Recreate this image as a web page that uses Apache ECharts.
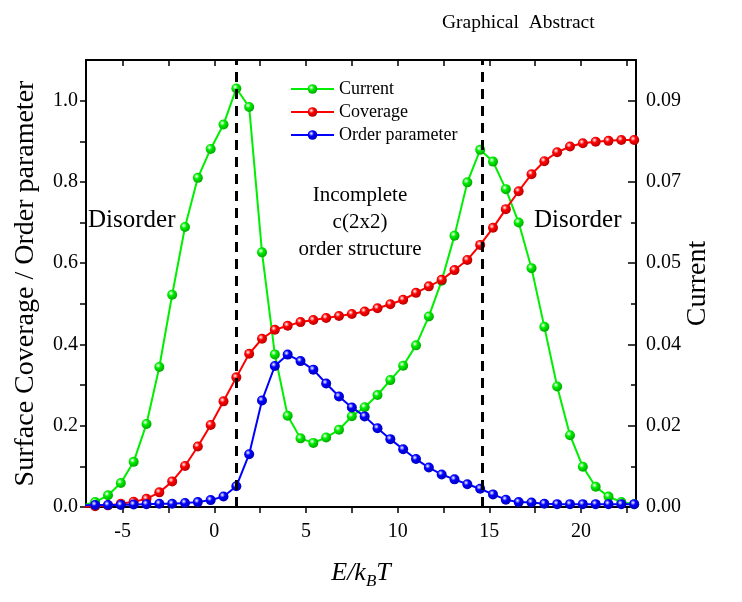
<!DOCTYPE html>
<html>
<head>
<meta charset="utf-8">
<script src="https://cdn.jsdelivr.net/npm/echarts@6/dist/echarts.min.js"></script>
<style>
html,body{margin:0;padding:0;background:#fff;}
#chart{width:742px;height:602px;}
</style>
</head>
<body>
<div id="chart"></div>
<script>
// ---- data ----
var xValues = [-7.2, -6.5, -5.8, -5.1, -4.4, -3.7, -3.0, -2.3, -1.6, -0.9, -0.2, 0.5, 1.2, 1.9, 2.6, 3.3, 4.0, 4.7, 5.4, 6.1, 6.8, 7.5, 8.2, 8.9, 9.6, 10.3, 11.0, 11.7, 12.4, 13.1, 13.8, 14.5, 15.2, 15.9, 16.6, 17.3, 18.0, 18.7, 19.4, 20.1, 20.8, 21.5, 22.2, 22.9];
var current = [0.0003, 0.0011, 0.0026, 0.0053, 0.0100, 0.0184, 0.0310, 0.0470, 0.0620, 0.0729, 0.0793, 0.0847, 0.0927, 0.0886, 0.0564, 0.0338, 0.0202, 0.0152, 0.0142, 0.0154, 0.0171, 0.0201, 0.0221, 0.0248, 0.0281, 0.0313, 0.0358, 0.0422, 0.0501, 0.0601, 0.0719, 0.0791, 0.0765, 0.0704, 0.0630, 0.0529, 0.0399, 0.0267, 0.0159, 0.0089, 0.0045, 0.0023, 0.0011, 0.0006];
var coverage = [0.000, 0.002, 0.004, 0.008, 0.013, 0.020, 0.036, 0.063, 0.101, 0.149, 0.202, 0.260, 0.319, 0.377, 0.414, 0.436, 0.446, 0.455, 0.460, 0.465, 0.470, 0.475, 0.481, 0.489, 0.499, 0.510, 0.527, 0.543, 0.559, 0.583, 0.608, 0.645, 0.687, 0.733, 0.777, 0.819, 0.851, 0.873, 0.887, 0.895, 0.899, 0.901, 0.903, 0.903];
var orderParam = [0.004, 0.005, 0.005, 0.005, 0.006, 0.007, 0.008, 0.008, 0.010, 0.012, 0.017, 0.026, 0.051, 0.130, 0.262, 0.347, 0.375, 0.359, 0.338, 0.304, 0.272, 0.245, 0.223, 0.194, 0.167, 0.142, 0.118, 0.097, 0.080, 0.068, 0.056, 0.045, 0.031, 0.018, 0.012, 0.011, 0.008, 0.007, 0.007, 0.007, 0.007, 0.007, 0.007, 0.007];
var seriesNames = ['Current', 'Coverage', 'Order parameter'];
var dashX = [1.2, 14.6];

var xTickLabels = [-5, 0, 5, 10, 15, 20];
var xTickMarks = [-5, -2.5, 0, 2.5, 5, 7.5, 10, 12.5, 15, 17.5, 20, 22.5];
var leftTickLabels = [0, 0.2, 0.4, 0.6, 0.8, 1.0];
var leftTickMarks = [0, 0.1, 0.2, 0.3, 0.4, 0.5, 0.6, 0.7, 0.8, 0.9, 1.0];
var rightTickValues = [0, 0.018, 0.036, 0.054, 0.072, 0.09];
var rightTickLabels = ['0.00', '0.02', '0.04', '0.05', '0.07', '0.09'];
var rightMinorTicks = [0.009, 0.027, 0.045, 0.063, 0.081];

// ---- chart ----
var FONT = 'Liberation Serif';
function pairs(ys) { return xValues.map(function (x, i) { return [x, ys[i]]; }); }
function ball(c, dark) {
  return { type: 'radial', x: 0.38, y: 0.35, r: 0.75,
    colorStops: [{ offset: 0, color: '#ffffff' }, { offset: 0.35, color: c }, { offset: 1, color: dark }] };
}
var colors = ['#00ee00', '#ff0000', '#0000ff'];
var darks = ['#009900', '#aa0000', '#0000aa'];

var chart = echarts.init(document.getElementById('chart'), null, { renderer: 'canvas' });
chart.setOption({
  animation: false,
  backgroundColor: '#ffffff',
  grid: { left: 86, right: 106, top: 60, bottom: 95, containLabel: false },
  legend: {
    data: seriesNames, orient: 'vertical', left: 285, top: 75,
    itemWidth: 43, itemHeight: 12, itemGap: 5,
    textStyle: { fontFamily: FONT, fontSize: 18, color: '#000' }
  },
  xAxis: [{
    type: 'value', min: -7, max: 23, position: 'bottom',
    axisLine: { show: true, onZero: false, lineStyle: { color: '#000', width: 2 } },
    axisTick: { show: true, inside: false, length: 6, customValues: xTickMarks, lineStyle: { color: '#000', width: 1.5 } },
    axisLabel: { customValues: xTickLabels, fontFamily: FONT, fontSize: 20, color: '#000', margin: 15 },
    splitLine: { show: false },
    name: '{i|E/k}{s|B}{i|T}', nameLocation: 'middle', nameGap: 50,
    nameTextStyle: { rich: {
      i: { fontFamily: FONT, fontStyle: 'italic', fontSize: 26, color: '#000' },
      s: { fontFamily: FONT, fontStyle: 'italic', fontSize: 17, color: '#000', padding: [16, 0, 0, 0] }
    } }
  }, {
    type: 'value', min: -7, max: 23, position: 'top',
    axisLine: { show: true, onZero: false, lineStyle: { color: '#000', width: 2 } },
    axisTick: { show: true, inside: true, length: 6, customValues: xTickMarks, lineStyle: { color: '#000', width: 1.5 } },
    axisLabel: { show: false }, splitLine: { show: false }
  }],
  yAxis: [{
    type: 'value', min: 0, max: 1.1, position: 'left',
    axisLine: { show: true, onZero: false, lineStyle: { color: '#000', width: 2 } },
    axisTick: { show: true, inside: false, length: 6, customValues: leftTickMarks, lineStyle: { color: '#000', width: 1.5 } },
    axisLabel: { customValues: leftTickLabels, fontFamily: FONT, fontSize: 20, color: '#000', margin: 8,
      formatter: function (v) { return v.toFixed(1); } },
    splitLine: { show: false },
    name: 'Surface Coverage / Order parameter', nameLocation: 'middle', nameGap: 46, nameRotate: 90,
    nameTextStyle: { fontFamily: FONT, fontSize: 28, color: '#000' }
  }, {
    type: 'value', min: 0, max: 0.099, position: 'right',
    axisLine: { show: true, onZero: false, lineStyle: { color: '#000', width: 2 } },
    axisTick: { show: true, inside: true, length: 8, customValues: rightTickValues, lineStyle: { color: '#000', width: 1.5 } },
    axisLabel: { customValues: rightTickValues, fontFamily: FONT, fontSize: 20, color: '#000', margin: 10,
      formatter: function (v) {
        var best = 0;
        for (var i = 0; i < rightTickValues.length; i++) {
          if (Math.abs(rightTickValues[i] - v) < Math.abs(rightTickValues[best] - v)) best = i;
        }
        return rightTickLabels[best];
      } },
    splitLine: { show: false },
    name: 'Current', nameLocation: 'middle', nameGap: 48, nameRotate: 90, nameMoveOverlap: false,
    nameTextStyle: { fontFamily: FONT, fontSize: 28, color: '#000' }
  }, {
    type: 'value', min: 0, max: 0.099, position: 'right',
    axisLine: { show: false, onZero: false },
    axisTick: { show: true, inside: true, length: 5, customValues: rightMinorTicks, lineStyle: { color: '#000', width: 1.5 } },
    axisLabel: { show: false }, splitLine: { show: false }
  }],
  graphic: [
    { type: 'text', left: 442, top: 13, style: { text: 'Graphical  Abstract', fontFamily: FONT, fontSize: 19.5, fill: '#000' } },
    { type: 'text', left: 88, top: 208, style: { text: 'Disorder', fontFamily: FONT, fontSize: 25, fill: '#000' } },
    { type: 'text', left: 534, top: 208, style: { text: 'Disorder', fontFamily: FONT, fontSize: 25, fill: '#000' } },
    { type: 'text', x: 360, y: 222, style: { text: 'Incomplete\nc(2x2)\norder structure', fontFamily: FONT, fontSize: 21,
      lineHeight: 27, fill: '#000', align: 'center', verticalAlign: 'middle' } }
  ],
  series: [current, coverage, orderParam].map(function (ys, i) {
    var s = {
      name: seriesNames[i], type: 'line', data: pairs(ys),
      xAxisIndex: 0, yAxisIndex: i === 0 ? 1 : 0,
      symbol: 'circle', symbolSize: 10, showSymbol: true, clip: true,
      lineStyle: { color: colors[i], width: 2 },
      itemStyle: { color: ball(colors[i], darks[i]), borderWidth: 0 },
      emphasis: { disabled: true }
    };
    if (i === 2) {
      s.markLine = {
        silent: true, symbol: ['none', 'none'], label: { show: false },
        lineStyle: { color: '#000', type: [10, 7], width: 3 },
        data: dashX.map(function (x) { return { xAxis: x }; })
      };
    }
    return s;
  })
});
</script>
</body>
</html>
